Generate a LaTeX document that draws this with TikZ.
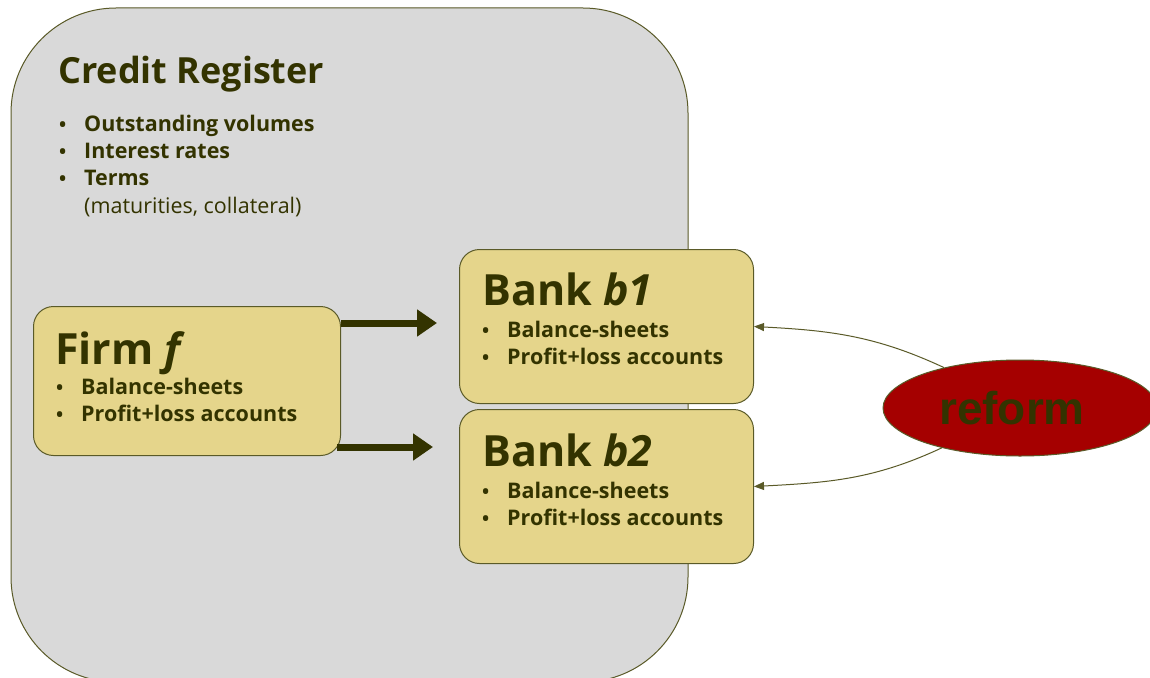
\documentclass[tikz,border=0pt]{standalone}
\usepackage{fontspec}
\setmainfont{Open Sans}
\newfontfamily\refont{Liberation Sans}
\usetikzlibrary{arrows.meta,shapes.geometric}
\definecolor{txt}{RGB}{51,51,0}
\definecolor{edge}{RGB}{90,90,40}
\definecolor{khaki}{RGB}{229,213,139}
\definecolor{panel}{RGB}{217,217,217}
\definecolor{redfill}{RGB}{165,0,0}
\begin{document}
\begin{tikzpicture}[x=1pt,y=-1pt,
  box/.style={draw=edge,line width=1pt,fill=khaki,rounded corners=20pt},
  heading/.style={anchor=base west,inner sep=0pt,text=txt,font=\fontsize{43}{43}\selectfont\bfseries},
  item/.style={anchor=base west,inner sep=0pt,text=txt,font=\fontsize{21.5}{21.5}\selectfont\bfseries},
  dot/.style={anchor=base west,inner sep=0pt,text=txt,font=\fontsize{19}{19}\selectfont\bfseries},
  fat/.style={draw=txt,line width=7pt,-{Triangle[length=20pt,width=26pt]}},
  thin/.style={draw=edge,line width=1pt,-{Triangle[length=10pt,width=8pt]}}]
\useasboundingbox (0,0) rectangle (1150,677);
\clip (0,0) rectangle (1150,677);
\fill[white] (0,0) rectangle (1150,677);
% Credit register panel
\path[draw=edge,line width=1pt,fill=panel,rounded corners=105pt] (11,8) rectangle (688,682);
\node[anchor=base west,inner sep=0pt,text=txt,font=\fontsize{36}{36}\selectfont\bfseries] (crt) at (58,83) {Credit Register};
\node[dot] (cd1) at (59,131) {•}; \node[item] (ci1) at (84,131) {Outstanding volumes};
\node[dot] (cd2) at (59,158) {•}; \node[item] (ci2) at (84,158) {Interest rates};
\node[dot] (cd3) at (59,185) {•}; \node[item] (ci3) at (84,185) {Terms};
\node[anchor=base west,inner sep=0pt,text=txt,font=\fontsize{21.5}{21.5}\selectfont] (ci4) at (84,213) {(maturities, collateral)};
% Firm
\node[box,minimum width=307pt,minimum height=149pt,anchor=north west] (firm) at (33,306) {};
\node[heading] (firmt) at (55,364) {Firm \textit{f}};
\node[dot] (fd1) at (56,394) {•}; \node[item] (fi1) at (81,394) {Balance-sheets};
\node[dot] (fd2) at (56,421) {•}; \node[item] (fi2) at (81,421) {Profit+loss accounts};
% Banks
\node[box,minimum width=294pt,minimum height=154pt,anchor=north west] (b1) at (459,249) {};
\node[heading] (b1t) at (482,305) {Bank \textit{b1}};
\node[dot] (b1d1) at (482,337) {•}; \node[item] (b1i1) at (507,337) {Balance-sheets};
\node[dot] (b1d2) at (482,364) {•}; \node[item] (b1i2) at (507,364) {Profit+loss accounts};
\node[box,minimum width=294pt,minimum height=154pt,anchor=north west] (b2) at (459,409) {};
\node[heading] (b2t) at (482,466) {Bank \textit{b2}};
\node[dot] (b2d1) at (482,498) {•}; \node[item] (b2i1) at (507,498) {Balance-sheets};
\node[dot] (b2d2) at (482,525) {•}; \node[item] (b2i2) at (507,525) {Profit+loss accounts};
% reform
\node[ellipse,draw=edge,line width=1pt,fill=redfill,minimum width=274pt,minimum height=96pt,inner sep=0pt] (reform) at (1020,408) {};
\node[text=txt,font=\refont\fontsize{46}{46}\selectfont\bfseries,inner sep=0pt] (reformt) at ([xshift=-8pt]reform.center) {reform};
% thick arrows
\coordinate (a1) at (437,323);
\coordinate (a2) at (433,447);
\draw[fat] (firm.east |- a1) -- (a1);
\draw[fat] ([xshift=-4pt]firm.east |- a2) -- (a2);
% thin curved arrows
\draw[thin] (reform.152) to[out=155,in=-3] (b1.east);
\draw[thin] (reform.207) to[out=-155,in=3] (b2.east);
\end{tikzpicture}
\end{document}
